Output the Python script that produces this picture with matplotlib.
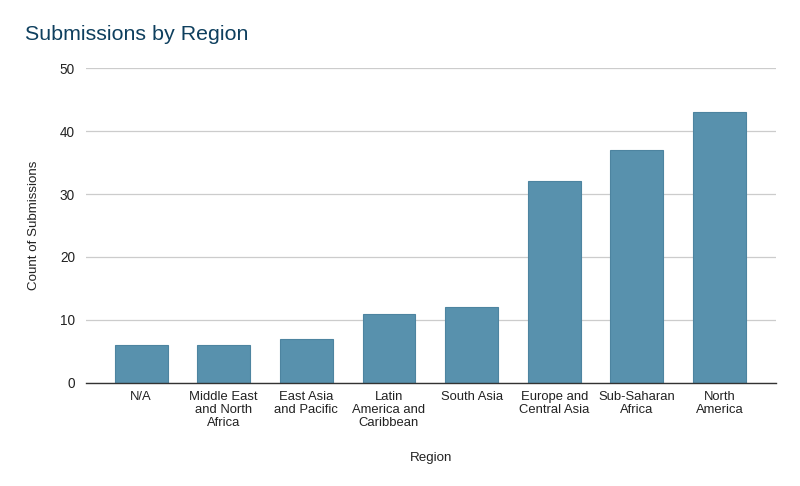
import matplotlib
matplotlib.use("Agg")
import matplotlib.pyplot as plt

plt.rcParams['font.family'] = ['Liberation Sans', 'DejaVu Sans']

categories = ["N/A", "Middle East\nand North\nAfrica", "East Asia\nand Pacific",
              "Latin\nAmerica and\nCaribbean", "South Asia", "Europe and\nCentral Asia",
              "Sub-Saharan\nAfrica", "North\nAmerica"]
counts = [6, 6, 7, 11, 12, 32, 37, 43]
yticks = [0, 10, 20, 30, 40, 50]

fig = plt.figure(figsize=(8, 4.86), dpi=100)
ax = fig.add_axes([0.1075, 0.212, 0.862, 0.648])

x = list(range(len(categories)))
ax.bar(x, counts, width=0.64, color="#5891AD", edgecolor="#4D84A0", linewidth=0.8, zorder=3)

ax.set_xlim(-0.667, 7.68)
ax.set_ylim(0, 50)
ax.set_yticks(yticks)
ax.set_xticks(x)
ax.set_xticklabels(categories, fontsize=9.4, linespacing=1.12)
ax.tick_params(axis='y', length=0, labelsize=9.8, colors="#222222", pad=8)
ax.tick_params(axis='x', length=0, colors="#222222", pad=6)
ax.grid(axis='y', color="#CCCCCC", linewidth=0.9, zorder=0)
for s in ["top", "right", "left"]:
    ax.spines[s].set_visible(False)
ax.spines["bottom"].set_color("#333333")
ax.spines["bottom"].set_linewidth(1.0)
ax.spines["bottom"].set_zorder(4)

ax.set_ylabel("Count of Submissions", fontsize=9.6, color="#222222", labelpad=14)
ax.set_xlabel("Region", fontsize=9.6, color="#222222", labelpad=16)

fig.text(0.031, 0.928, "Submissions by Region", fontsize=15.4, color="#0E3F5E", ha="left", va="center")

fig.savefig("out.png", dpi=100, facecolor="white")
